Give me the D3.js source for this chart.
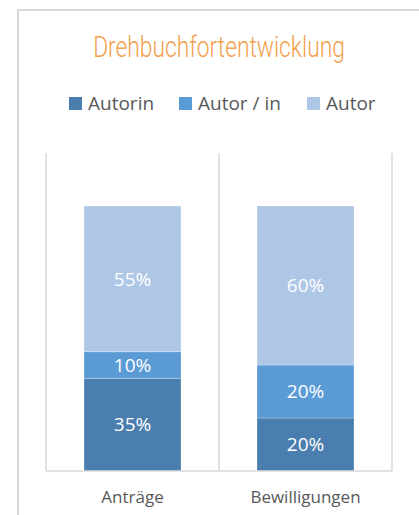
<!DOCTYPE html>
<html>
<head>
<meta charset="utf-8">
<script src="https://cdn.jsdelivr.net/npm/d3@7"></script>
<style>
  body { margin: 0; background: #fff; }
  svg { display: block; }
</style>
</head>
<body>
<div id="chart"></div>
<script>
var categories = ["Anträge", "Bewilligungen"];
var seriesNames = ["Autorin", "Autor / in", "Autor"];
var autorin = [0.35, 0.20];
var autorIn = [0.10, 0.20];
var autor = [0.55, 0.60];
var colors = ["#4a7eae", "#5b9bd5", "#aec7e7"];

var width = 419, height = 515;

var svg = d3.select("#chart").append("svg")
    .attr("width", width)
    .attr("height", height);

// chart frame (right edge is cut off)
svg.append("rect")
    .attr("x", 18).attr("y", 10)
    .attr("width", width + 20).attr("height", height + 20)
    .attr("fill", "#fff")
    .attr("stroke", "#d9d9d9")
    .attr("stroke-width", 2);

// condensed title: squeeze horizontally
svg.append("text")
    .attr("transform", "translate(219,57) scale(0.76,1)")
    .attr("text-anchor", "middle")
    .attr("font-family", "Roboto, sans-serif")
    .attr("font-weight", 300)
    .attr("font-size", 30)
    .attr("fill", "#f4a04c")
    .text("Drehbuchfortentwicklung");

// legend
var legendX = [69, 179, 307];
var legend = svg.selectAll(".legend")
    .data(seriesNames)
    .enter().append("g")
    .attr("class", "legend")
    .attr("transform", function (d, i) { return "translate(" + legendX[i] + ",97)"; });

legend.append("rect")
    .attr("width", 13).attr("height", 13)
    .attr("fill", function (d, i) { return colors[i]; });

legend.append("text")
    .attr("x", 19).attr("y", 13)
    .attr("font-family", "'Open Sans', sans-serif")
    .attr("font-size", 19)
    .attr("fill", "#595959")
    .text(function (d) { return d; });

// plot
var margin = { left: 46, right: 392, top: 153, bottom: 471 };

var x = d3.scaleBand()
    .domain(categories)
    .range([margin.left, margin.right])
    .paddingInner(0)
    .paddingOuter(0);

var y = d3.scaleLinear()
    .domain([0, 1.2])
    .range([margin.bottom, margin.top]);

var bounds = [margin.left].concat(categories.map(function (c) { return x(c) + x.bandwidth(); }));
svg.selectAll(".vgrid")
    .data(bounds)
    .enter().append("line")
    .attr("class", "vgrid")
    .attr("x1", function (d) { return d; })
    .attr("x2", function (d) { return d; })
    .attr("y1", margin.top)
    .attr("y2", margin.bottom)
    .attr("stroke", "#d9d9d9")
    .attr("stroke-width", 1.5);

var table = categories.map(function (c, i) {
    return { cat: c, s0: autorin[i], s1: autorIn[i], s2: autor[i] };
});

var stack = d3.stack().keys(["s0", "s1", "s2"]);
var layers = stack(table);

var barW = 97;

var groups = svg.selectAll(".layer")
    .data(layers)
    .enter().append("g")
    .attr("class", "layer")
    .attr("fill", function (d, i) { return colors[i]; });

groups.selectAll("rect")
    .data(function (d) { return d; })
    .enter().append("rect")
    .attr("x", function (d) { return x(d.data.cat) + (x.bandwidth() - barW) / 2; })
    .attr("width", barW)
    .attr("y", function (d) { return y(d[1]); })
    .attr("height", function (d) { return y(d[0]) - y(d[1]); })
    .attr("stroke", "#ffffff")
    .attr("stroke-opacity", 0.35)
    .attr("stroke-width", 0.75);

groups.selectAll("text")
    .data(function (d) { return d; })
    .enter().append("text")
    .attr("x", function (d) { return x(d.data.cat) + x.bandwidth() / 2; })
    .attr("y", function (d) { return (y(d[0]) + y(d[1])) / 2; })
    .attr("dy", "0.36em")
    .attr("text-anchor", "middle")
    .attr("font-family", "'Open Sans', sans-serif")
    .attr("font-size", 19)
    .attr("fill", "#ffffff")
    .text(function (d) { return Math.round((d[1] - d[0]) * 100) + "%"; });

// baseline
svg.append("line")
    .attr("x1", margin.left).attr("x2", margin.right)
    .attr("y1", margin.bottom).attr("y2", margin.bottom)
    .attr("stroke", "#d9d9d9")
    .attr("stroke-width", 1.5);

var xAxis = svg.append("g")
    .attr("transform", "translate(0," + margin.bottom + ")")
    .call(d3.axisBottom(x).tickSize(0).tickPadding(20));
xAxis.select(".domain").remove();
xAxis.selectAll("text")
    .attr("font-family", "'Open Sans', sans-serif")
    .attr("font-size", 17)
    .attr("fill", "#595959");
</script>
</body>
</html>
